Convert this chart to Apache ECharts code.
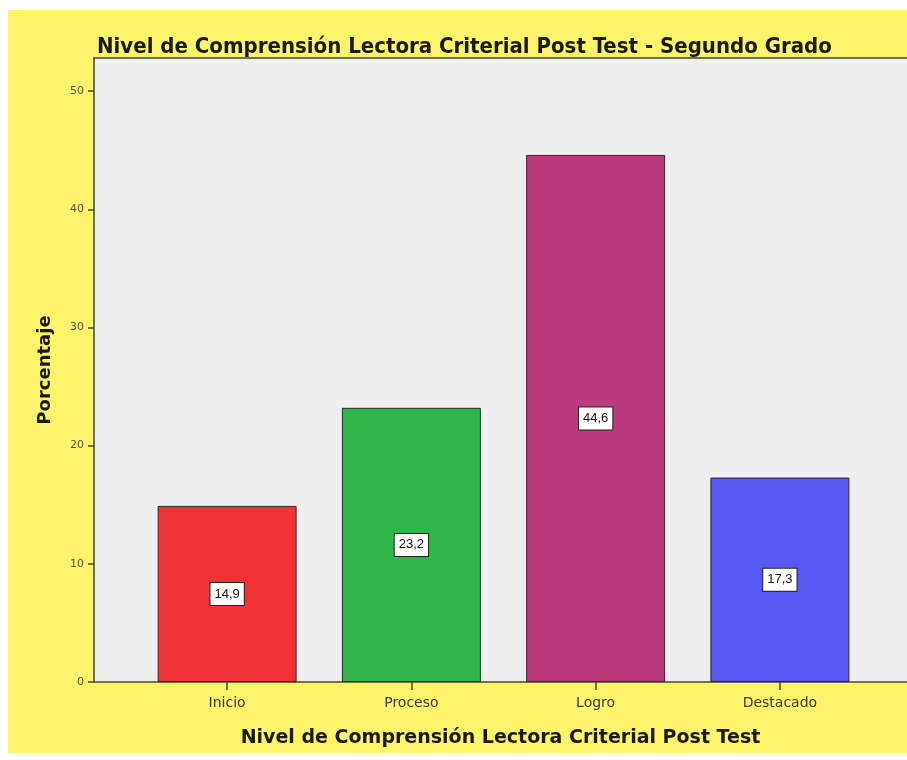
<!DOCTYPE html>
<html>
<head>
<meta charset="utf-8">
<script src="https://cdn.jsdelivr.net/npm/echarts@6/dist/echarts.min.js"></script>
<style>
  html, body { margin: 0; padding: 0; background: #ffffff; }
  #chart { width: 907px; height: 760px; }
</style>
</head>
<body>
<div id="chart"></div>
<script>
// Post-test reading comprehension levels, second grade (percent of students)
const categories = ['Inicio', 'Proceso', 'Logro', 'Destacado'];
const percentages = [14.9, 23.2, 44.6, 17.3];
const barColors = ['#f03236', '#2fb648', '#ba3b7b', '#5757f3'];
const yTicks = [0, 10, 20, 30, 40, 50];
const yMax = 52.8;

const chart = echarts.init(document.getElementById('chart'));
const lineColor = '#45452f';
const font = 'Liberation Sans';
const wideFont = 'DejaVu Sans';
const narrowFont = '"DejaVu Sans Condensed", sans-serif';

chart.setOption({
  backgroundColor: '#ffffff',
  animation: false,
  graphic: [{
    type: 'rect', z: -10, silent: true,
    shape: { x: 8, y: 10, width: 899, height: 743 },
    style: { fill: '#fdf46b' }
  }],
  title: {
    text: 'Nivel de Comprensión Lectora Criterial Post Test - Segundo Grado',
    left: 92, top: 31,
    textStyle: { fontFamily: narrowFont, fontSize: 22, fontWeight: 'bold', color: '#1a1a1a' }
  },
  grid: [
    { left: 94, top: 58, right: 0, bottom: 78, show: true, backgroundColor: '#efefef', borderWidth: 0 },
    { left: 135, top: 58, right: 35, bottom: 78 }
  ],
  xAxis: [
    {
      gridIndex: 0, type: 'value', min: 0, max: 1, position: 'bottom',
      axisLine: { show: true, lineStyle: { color: lineColor, width: 1.5 } },
      axisTick: { show: false }, axisLabel: { show: false }, splitLine: { show: false },
      name: 'Nivel de Comprensión Lectora Criterial Post Test',
      nameLocation: 'middle', nameGap: 47,
      nameTextStyle: { fontFamily: wideFont, fontSize: 19, fontWeight: 'bold', color: '#1a1a1a' }
    },
    {
      gridIndex: 0, type: 'value', min: 0, max: 1, position: 'top',
      axisLine: { show: true, lineStyle: { color: lineColor, width: 1.5 } },
      axisTick: { show: false }, axisLabel: { show: false }, splitLine: { show: false }
    },
    {
      gridIndex: 1, type: 'category', data: categories,
      axisLine: { show: false },
      axisTick: { show: true, alignWithLabel: true, length: 8, lineStyle: { color: lineColor, width: 1.5 } },
      axisLabel: { margin: 14, fontFamily: wideFont, fontSize: 14, color: '#3a3a3a' }
    }
  ],
  yAxis: [
    {
      gridIndex: 0, type: 'value', min: 0, max: yMax,
      axisLine: { show: true, lineStyle: { color: lineColor, width: 1.5 } },
      axisTick: { show: true, length: 6, customValues: yTicks, lineStyle: { color: lineColor, width: 1.5 } },
      axisLabel: { customValues: yTicks, margin: 10, fontFamily: wideFont, fontSize: 11, color: '#555' },
      splitLine: { show: false },
      name: 'Porcentaje', nameLocation: 'middle', nameGap: 40, nameRotate: 90,
      nameTextStyle: { fontFamily: wideFont, fontSize: 18, fontWeight: 'bold', color: '#1a1a1a' }
    },
    {
      gridIndex: 1, type: 'value', min: 0, max: yMax, show: false
    }
  ],
  series: [{
    type: 'bar',
    xAxisIndex: 2, yAxisIndex: 1,
    barWidth: 139,
    data: percentages.map((v, i) => ({
      value: v,
      itemStyle: { color: barColors[i], borderColor: '#2b2b2b', borderWidth: 1 }
    })),
    label: {
      show: true, position: 'inside',
      formatter: p => p.value.toFixed(1).replace('.', ','),
      fontFamily: font, fontSize: 13, color: '#111',
      backgroundColor: '#ffffff', borderColor: '#222', borderWidth: 1,
      padding: [5, 4, 4, 4]
    }
  }]
});
</script>
</body>
</html>
